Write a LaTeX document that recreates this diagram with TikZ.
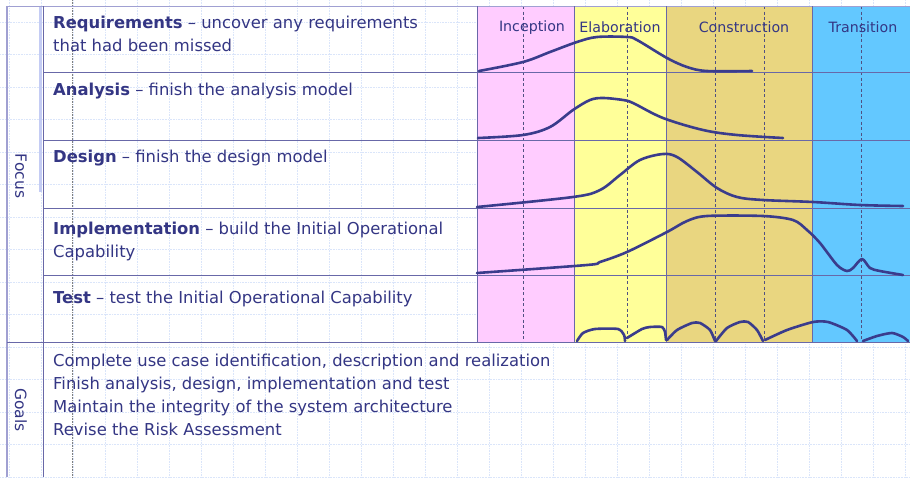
\documentclass[tikz,border=0pt]{standalone}
\usepackage{fontspec}
\setmainfont{DejaVu Sans}
\definecolor{txt}{RGB}{52,54,132}
\definecolor{pinkc}{RGB}{255,204,255}
\definecolor{yelc}{RGB}{255,255,153}
\definecolor{tanc}{RGB}{233,214,128}
\definecolor{bluec}{RGB}{99,200,255}
\definecolor{gridc}{RGB}{218,229,250}
\definecolor{framec}{RGB}{104,104,168}
\definecolor{lightframe}{RGB}{160,160,210}
\definecolor{barc}{RGB}{196,204,244}
\definecolor{curvec}{RGB}{58,60,140}
\definecolor{dashc}{RGB}{80,80,130}
\tikzset{
  gridline/.style={gridc, densely dotted, line width=0.6pt},
  frameline/.style={framec, line width=0.9pt},
  phasedash/.style={dashc, dash pattern=on 3pt off 2.5pt, line width=0.6pt},
  curve/.style={curvec, line width=2.6pt, line cap=round, line join=round},
  lbl/.style={txt, anchor=base west, inner sep=0pt, font=\fontsize{16.4}{20}\selectfont},
  phaselbl/.style={txt, inner sep=0pt, font=\fontsize{14.2}{17}\selectfont},
  side/.style={txt, rotate=-90, inner sep=0pt, font=\fontsize{15.5}{18}\selectfont}
}
\begin{document}
\begin{tikzpicture}[x=1pt,y=-1pt]
\useasboundingbox (0,0) rectangle (910,477);
\fill[white] (0,0) rectangle (910,477);
% grid
\foreach \x in {9,41,...,905} \draw[gridline] (\x,0) -- (\x,477);
\foreach \y in {22,54.5,...,477} \draw[gridline] (0,\y) -- (910,\y);
% phases
\fill[pinkc] (477,6) rectangle (574,342);
\fill[yelc] (574,6) rectangle (666,342);
\fill[tanc] (666,6) rectangle (812,342);
\fill[bluec] (812,6) rectangle (910,342);
% dashed iteration lines
\foreach \x in {523.3,627.3,715.7,764,861.7} \draw[phasedash] (\x,6) -- (\x,342);
% dark dotted guide
\draw[black!50, densely dotted, line width=0.6pt] (72,0) -- (72,477);
% frame
\fill[barc] (39.3,6) rectangle (41.7,192);
\draw[lightframe, line width=1pt] (7,6) -- (910,6);
\draw[lightframe, line width=1.2pt] (7,6) -- (7,477);
\draw[frameline] (43,6) -- (43,477);
\foreach \y in {72.5,140,208,275.5} \draw[frameline] (43,\y) -- (910,\y);
\draw[frameline] (7,342.5) -- (910,342.5);
\foreach \x in {477,574,666,812} \draw[framec, line width=0.8pt] (\x,6) -- (\x,342.5);
% curves
\draw[curve] plot[smooth, tension=0.55] coordinates {(479,71) (523,62) (550,52) (577,42) (597,37) (627,37) (637,40) (667,58) (687,67) (707,71) (752,71)};
\draw[curve] plot[smooth, tension=0.55] coordinates {(478,138) (523,135) (550,127) (573,110) (590,100) (603,98) (623,100) (633,103) (663,118) (703,130) (737,135) (783,138)};
\draw[curve] plot[smooth, tension=0.55] coordinates {(477,207) (573,197) (600,190) (620,175) (640,160) (663,154) (677,157) (697,172) (717,188) (737,197) (763,200) (813,202) (860,205) (903,206)};
\draw[curve] plot[smooth, tension=0.5] coordinates {(477,273) (587,265) (600,262) (627,252) (667,232) (687,221) (707,216) (763,216) (793,220) (807,230) (820,243) (837,265) (847,271) (853,268) (862,259) (870,268) (880,271) (903,275)};
\draw[curve] plot[smooth, tension=0.4] coordinates {(577,341) (583,333) (595,329) (618,329) (624,335) (625,341)};
\draw[curve] plot[smooth, tension=0.4] coordinates {(627,338) (642,329) (650,327) (662,327) (665,332) (666,340)};
\draw[curve] plot[smooth, tension=0.4] coordinates {(667,340) (677,330) (692,323) (700,323) (710,330) (715,341)};
\draw[curve] plot[smooth, tension=0.4] coordinates {(716,341) (727,328) (740,322) (748,322) (757,330) (763,341)};
\draw[curve] plot[smooth, tension=0.4] coordinates {(765,340) (787,330) (813,322) (828,322) (847,330) (857,341)};
\draw[curve] plot[smooth, tension=0.4] coordinates {(863,341) (877,336) (892,333) (903,337) (908,341)};
% phase labels
\node[phaselbl] (inc) at (532,27.5) {Inception};
\node[phaselbl] (ela) at (620,27.5) {Elaboration};
\node[phaselbl] (con) at (744,27.5) {Construction};
\node[phaselbl] (tra) at (863,27.5) {Transition};
% side labels
\node[side] (focus) at (21,176) {Focus};
\node[side] (goals) at (21,410) {Goals};
% row labels
\node[lbl] (req1) at (53,28.3) {\textbf{Requirements} – uncover any requirements};
\node[lbl] (req2) at (53,51.6) {that had been missed};
\node[lbl] (ana) at (53,95) {\textbf{Analysis} – finish the analysis model};
\node[lbl] (des) at (53,162.7) {\textbf{Design} – finish the design model};
\node[lbl] (imp1) at (53,234) {\textbf{Implementation} – build the Initial Operational};
\node[lbl] (imp2) at (53,257) {Capability};
\node[lbl] (tst) at (53,303.3) {\textbf{Test} – test the Initial Operational Capability};
% goals
\node[lbl] (g1) at (53,366) {Complete use case identification, description and realization};
\node[lbl] (g2) at (53,389.3) {Finish analysis, design, implementation and test};
\node[lbl] (g3) at (53,412.6) {Maintain the integrity of the system architecture};
\node[lbl] (g4) at (53,435.9) {Revise the Risk Assessment};
\end{tikzpicture}
\end{document}
